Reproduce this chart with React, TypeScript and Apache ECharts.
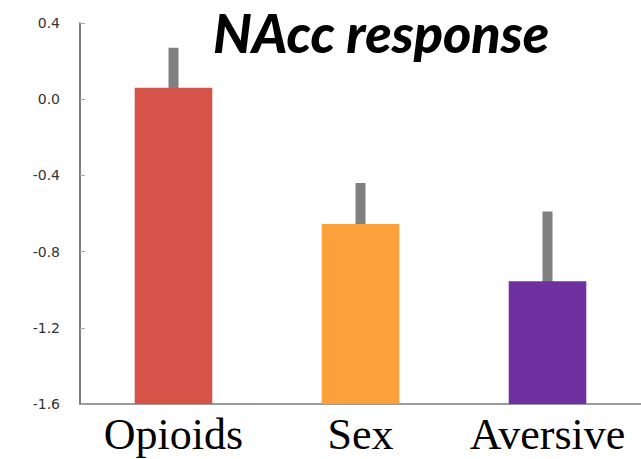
import React, { useEffect, useRef } from "react";
import * as echarts from "echarts";

// Mean NAcc response per stimulus category, with the standard error of each mean
const categories = ["Opioids", "Sex", "Aversive"];
const means = [0.06, -0.655, -0.955];
const errors = [0.21, 0.215, 0.365];
const barColors = ["#D6534A", "#FBA03B", "#7031A0"];
const yTicks = { min: -1.6, max: 0.4, interval: 0.4 };

export default function App() {
  const ref = useRef<HTMLDivElement>(null);

  useEffect(() => {
    document.body.style.margin = "0";
    if (!ref.current) return;
    const chart = echarts.init(ref.current, undefined, { renderer: "svg" });
    const yMin = yTicks.min;

    chart.setOption({
      animation: false,
      backgroundColor: "#ffffff",
      title: {
        text: "NAcc response",
        left: 208,
        top: 0,
        textStyle: {
          fontFamily: "Lato",
          fontStyle: "italic",
          fontWeight: 900,
          fontSize: 54,
          color: "#000000",
        },
      },
      grid: { left: 80, top: 23, width: 564, bottom: 55 },
      xAxis: {
        type: "category",
        data: categories,
        axisLine: { onZero: false, lineStyle: { color: "#7a7a7a", width: 1.5 } },
        axisTick: { inside: true, length: 5, lineStyle: { color: "#555555" } },
        axisLabel: {
          interval: 0,
          fontFamily: "Liberation Serif",
          fontSize: 44,
          color: "#000000",
          margin: 8,
        },
      },
      yAxis: {
        type: "value",
        min: yTicks.min,
        max: yTicks.max,
        interval: yTicks.interval,
        splitLine: { show: false },
        axisLine: { show: true, lineStyle: { color: "#555555", width: 1.5 } },
        axisTick: { show: true, inside: true, length: 5, lineStyle: { color: "#aaaaaa" } },
        axisLabel: {
          fontFamily: "DejaVu Sans",
          fontSize: 14,
          color: "#333333",
          margin: 20,
          formatter: (v: number) => v.toFixed(1),
        },
      },
      series: [
        {
          // error bars (drawn behind the bars)
          type: "custom",
          z: 1,
          data: categories.map((_, i) => [i, means[i], errors[i]]),
          renderItem: (_params: any, api: any) => {
            const i = api.value(0);
            const m = api.value(1);
            const e = api.value(2);
            const hi = api.coord([i, m + e]);
            const lo = api.coord([i, m - e]);
            const w = 10;
            return {
              type: "rect",
              shape: { x: hi[0] - w / 2, y: hi[1], width: w, height: lo[1] - hi[1] },
              style: { fill: "#808080" },
            };
          },
        },
        {
          // bars rising from the bottom of the value axis
          type: "custom",
          z: 2,
          data: categories.map((_, i) => [i, means[i]]),
          renderItem: (_params: any, api: any) => {
            const i = api.value(0);
            const m = api.value(1);
            const top = api.coord([i, m]);
            const base = api.coord([i, yMin]);
            const w = api.size([1, 0])[0] * 0.415;
            return {
              type: "rect",
              shape: { x: top[0] - w / 2, y: top[1], width: w, height: base[1] - top[1] },
              style: { fill: barColors[i] },
            };
          },
        },
      ],
    });

    return () => chart.dispose();
  }, []);

  return <div ref={ref} style={{ width: 641, height: 459 }} />;
}
